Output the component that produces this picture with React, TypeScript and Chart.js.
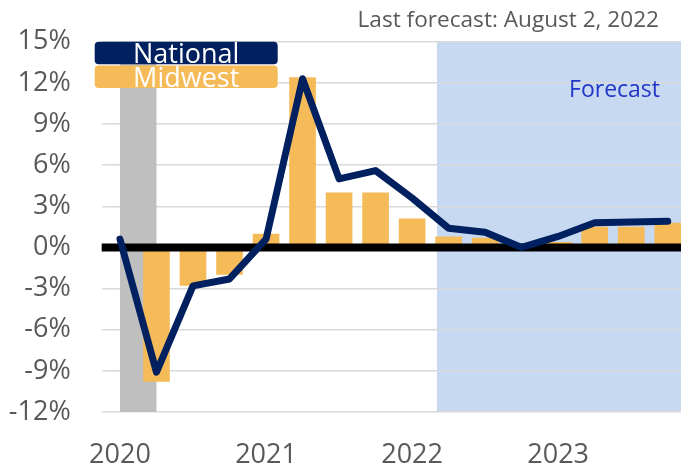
import React, { useEffect, useRef } from "react";
import { Chart, registerables } from "chart.js";

Chart.register(...registerables);

const categories = [
  "2020 Q1", "2020 Q2", "2020 Q3", "2020 Q4",
  "2021 Q1", "2021 Q2", "2021 Q3", "2021 Q4",
  "2022 Q1", "2022 Q2", "2022 Q3", "2022 Q4",
  "2023 Q1", "2023 Q2", "2023 Q3", "2023 Q4",
];
const yearLabels = ["2020", "2021", "2022", "2023"];
const national = [0.6, -9.1, -2.8, -2.3, 0.6, 12.3, 5.0, 5.6, 3.6, 1.4, 1.1, 0.0, 0.8, 1.8, 1.85, 1.9];
const midwest = [0, -9.8, -2.8, -2.0, 1.0, 12.4, 4.0, 4.0, 2.1, 0.8, 0.7, 0.1, 0.4, 1.5, 1.5, 1.8];
const yTicks = [-12, -9, -6, -3, 0, 3, 6, 9, 12, 15];
const recessionStart = 0;
const recessionEnd = 1;
const forecastStart = 8.68;
const titleText = "Last forecast: August 2, 2022";
const forecastText = "Forecast";

const FONT = "'Open Sans', 'Noto Sans', sans-serif";
const NAVY = "#002060";
const ORANGE = "#F6BB59";
const GREY_TEXT = "#595959";

function idxToPx(x: any, i: number) {
  const step = x.getPixelForValue(1) - x.getPixelForValue(0);
  return x.getPixelForValue(0) + i * step;
}

function roundRect(ctx: CanvasRenderingContext2D, x: number, y: number, w: number, h: number, r: number) {
  ctx.beginPath();
  ctx.moveTo(x + r, y);
  ctx.lineTo(x + w - r, y);
  ctx.quadraticCurveTo(x + w, y, x + w, y + r);
  ctx.lineTo(x + w, y + h - r);
  ctx.quadraticCurveTo(x + w, y + h, x + w - r, y + h);
  ctx.lineTo(x + r, y + h);
  ctx.quadraticCurveTo(x, y + h, x, y + h - r);
  ctx.lineTo(x, y + r);
  ctx.quadraticCurveTo(x, y, x + r, y);
  ctx.closePath();
}

const decorPlugin = {
  id: "decor",
  beforeDraw(chart: any) {
    const { ctx, chartArea, scales } = chart;
    const x0 = idxToPx(scales.x, forecastStart);
    ctx.save();
    ctx.fillStyle = "#C6D9F0";
    ctx.fillRect(x0, chartArea.top, chartArea.right - x0, chartArea.bottom - chartArea.top);
    ctx.restore();
  },
  beforeDatasetsDraw(chart: any) {
    const { ctx, chartArea, scales } = chart;
    const a = idxToPx(scales.x, recessionStart);
    const b = idxToPx(scales.x, recessionEnd);
    ctx.save();
    ctx.fillStyle = "#BFBFBF";
    ctx.fillRect(a, chartArea.top, b - a, chartArea.bottom - chartArea.top);
    ctx.restore();
  },
  afterDatasetDraw(chart: any, args: any) {
    if (args.meta.type !== "bar") return;
    const { ctx, chartArea, scales } = chart;
    const y = scales.y.getPixelForValue(0);
    ctx.save();
    ctx.strokeStyle = "#000000";
    ctx.lineWidth = 8;
    ctx.beginPath();
    ctx.moveTo(chartArea.left, y);
    ctx.lineTo(chartArea.right, y);
    ctx.stroke();
    ctx.restore();
  },
  afterDraw(chart: any) {
    const { ctx } = chart;
    ctx.save();
    ctx.fillStyle = GREY_TEXT;
    ctx.font = `22.6px ${FONT}`;
    ctx.textAlign = "right";
    ctx.textBaseline = "alphabetic";
    ctx.fillText(titleText, 659, 27);
    ctx.fillStyle = "#2136C8";
    ctx.font = `23px ${FONT}`;
    ctx.fillText(forecastText, 660, 97);
    const items = [chart.data.datasets[0], chart.data.datasets[1]];
    const tops = [41.7, 65.5];
    items.forEach((ds: any, i: number) => {
      const color = ds.type === "line" ? ds.borderColor : ds.backgroundColor;
      ctx.fillStyle = color;
      roundRect(ctx, 94.7, tops[i], 183, 22.6, 4);
      ctx.fill();
      ctx.fillStyle = "#FFFFFF";
      ctx.font = `27px ${FONT}`;
      ctx.textAlign = "center";
      ctx.fillText(ds.label, 94.7 + 183 / 2, tops[i] + 21.6);
    });
    ctx.restore();
  },
};

export default function App() {
  const ref = useRef<HTMLCanvasElement>(null);
  useEffect(() => {
    if (!ref.current) return;
    const chart = new Chart(ref.current, {
      type: "bar",
      data: {
        labels: categories,
        datasets: [
          {
            type: "line",
            label: "National",
            data: national,
            borderColor: NAVY,
            backgroundColor: NAVY,
            borderWidth: 7,
            pointRadius: 0,
            borderCapStyle: "round",
            borderJoinStyle: "round",
            tension: 0,
            order: 0,
          } as any,
          {
            type: "bar",
            label: "Midwest",
            data: midwest,
            backgroundColor: ORANGE,
            barPercentage: 0.73,
            categoryPercentage: 1,
            order: 1,
          } as any,
        ],
      },
      options: {
        animation: false,
        responsive: true,
        maintainAspectRatio: false,
        layout: { padding: { top: 41.7, left: 0, right: 0, bottom: 0 } },
        plugins: {
          legend: { display: false },
          tooltip: { enabled: false },
          title: { display: false },
        },
        scales: {
          x: {
            type: "category",
            grid: { display: false, drawTicks: false },
            border: { display: false },
            ticks: {
              autoSkip: false,
              maxRotation: 0,
              minRotation: 0,
              padding: 27,
              color: GREY_TEXT,
              font: { family: FONT, size: 27 },
              callback: (v: any, i: number) => (i % 4 === 0 ? yearLabels[i / 4] : ""),
            },
            afterFit: (s: any) => {
              s.height = 56;
              s.paddingLeft = 0;
              s.paddingRight = 0;
            },
          },
          y: {
            min: yTicks[0],
            max: yTicks[yTicks.length - 1],
            afterBuildTicks: (s: any) => {
              s.ticks = yTicks.map((v) => ({ value: v }));
            },
            grid: {
              drawTicks: false,
              color: (c: any) => (c.tick && c.tick.value === 0 ? "rgba(0,0,0,0)" : "#D9D9D9"),
              lineWidth: 1.5,
            },
            border: { display: false },
            ticks: {
              padding: 31,
              color: GREY_TEXT,
              font: { family: FONT, size: 27 },
              callback: (v: any) => `${v}%`,
            },
            afterFit: (s: any) => {
              s.width = 101.7;
              s.paddingTop = 0;
              s.paddingBottom = 0;
            },
          },
        },
      },
      plugins: [decorPlugin],
    });
    return () => chart.destroy();
  }, []);
  return (
    <div style={{ position: "fixed", left: 0, top: 0, width: 681, height: 468, overflow: "hidden", background: "#fff" }}>
      <div style={{ width: 686, height: 468, position: "relative" }}>
        <canvas ref={ref} />
      </div>
    </div>
  );
}
